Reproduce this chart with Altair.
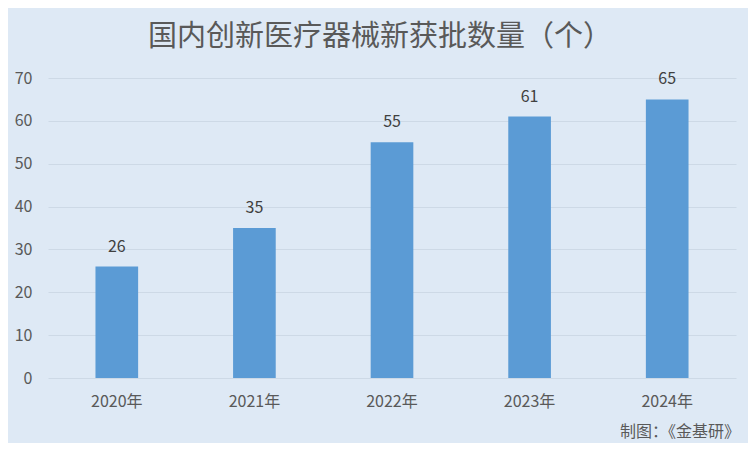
import altair as alt
import pandas as pd

years = ["2020年", "2021年", "2022年", "2023年", "2024年"]
counts = [26, 35, 55, 61, 65]

df = pd.DataFrame({"year": years, "count": counts})

BG = "#dee9f5"
FONT = "Noto Sans CJK SC"

base = alt.Chart(df)

bars = base.mark_bar(color="#5b9bd5").encode(
    x=alt.X("year:N", sort=years,
            scale=alt.Scale(paddingInner=0.69, paddingOuter=0.345),
            axis=alt.Axis(title=None, labelAngle=0, domain=False, ticks=False,
                          labelFontSize=16, labelColor="#595959", labelFont=FONT,
                          labelPadding=15)),
    y=alt.Y("count:Q", scale=alt.Scale(domain=[0, 70]),
            axis=alt.Axis(title=None, values=[0, 10, 20, 30, 40, 50, 60, 70],
                          domain=False, ticks=False, grid=True,
                          gridColor="#cdd9e6", gridWidth=1,
                          labelFontSize=16, labelColor="#595959", labelFont=FONT,
                          labelPadding=16)),
)

labels = base.mark_text(dy=-20, fontSize=16, color="#404040", font=FONT).encode(
    x=alt.X("year:N", sort=years),
    y="count:Q",
    text="count:Q",
)

source = alt.Chart(pd.DataFrame({"t": ["制图：《金基研》"]})).mark_text(
    align="left", baseline="middle", fontSize=16, color="#595959", font=FONT
).encode(x=alt.value(572), y=alt.value(354), text="t:N")

chart = (bars + labels + source).properties(
    width=688,
    height=300,
    background=BG,
    padding={"left": 40, "top": 70, "right": 12, "bottom": 65},
    autosize=alt.AutoSizeParams(type="none"),
    title=alt.TitleParams(
        "国内创新医疗器械新获批数量（个）",
        fontSize=29, font=FONT, fontWeight="normal", color="#595959",
        anchor="middle", dx=-12, offset=18,
    ),
).configure_view(stroke=None)

chart.save("out.html", embed_options={"renderer": "svg", "actions": False})
